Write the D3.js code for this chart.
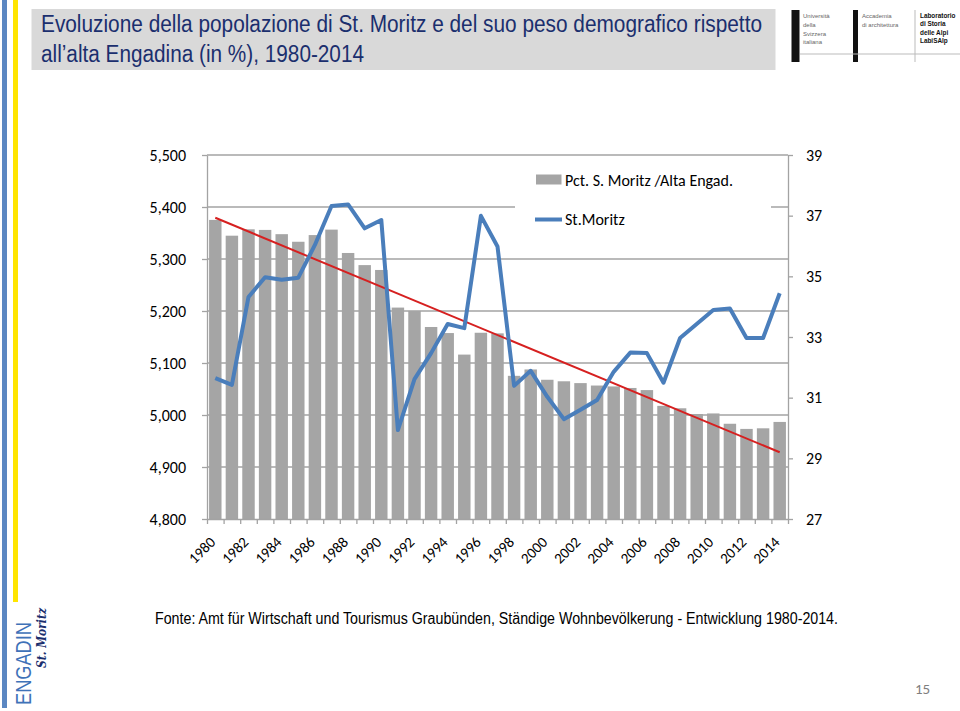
<!DOCTYPE html>
<html>
<head>
<meta charset="utf-8">
<script src="https://cdn.jsdelivr.net/npm/d3@7"></script>
<style>
  html, body { margin: 0; padding: 0; background: #ffffff; }
  svg { display: block; }
</style>
</head>
<body>
<svg id="chart" width="960" height="711"></svg>
<script>
// ---------- DATA ----------
const years = [1980,1981,1982,1983,1984,1985,1986,1987,1988,1989,
               1990,1991,1992,1993,1994,1995,1996,1997,1998,1999,
               2000,2001,2002,2003,2004,2005,2006,2007,2008,2009,
               2010,2011,2012,2013,2014];
// share of St. Moritz in Upper Engadine population (%), right axis
const pctValues = [36.86,36.34,36.55,36.53,36.39,36.14,36.36,36.54,35.77,35.37,
                   35.21,33.97,33.86,33.33,33.13,32.42,33.14,33.12,31.72,31.93,
                   31.59,31.54,31.48,31.40,31.37,31.32,31.25,30.73,30.65,30.46,
                   30.48,30.14,29.97,29.99,30.20];
// St. Moritz population, left axis
const popValues = [5071,5058,5227,5265,5260,5264,5327,5402,5405,5359,
                   5375,4971,5069,5119,5175,5167,5383,5324,5056,5085,
                   5035,4992,5010,5029,5083,5120,5119,5062,5148,5175,
                   5202,5205,5148,5148,5234];
// linear trend of the percentage series (start 1980, end 2014)
const trendYears = [1980, 2014];
const trendValues = [36.93, 29.20];
const leftTicks = [4800,4900,5000,5100,5200,5300,5400,5500];
const rightTicks = [27,29,31,33,35,37,39];
const xLabelYears = [1980,1982,1984,1986,1988,1990,1992,1994,1996,1998,
                     2000,2002,2004,2006,2008,2010,2012,2014];
const legendLabels = ["Pct. S. Moritz /Alta Engad.", "St.Moritz"];
const titleLines = ["Evoluzione della popolazione di St. Moritz e del suo peso demografico rispetto",
                    "all\u2019alta Engadina (in %), 1980-2014"];
const sourceText = "Fonte: Amt für Wirtschaft und Tourismus Graubünden, Ständige Wohnbevölkerung - Entwicklung 1980-2014.";
const pageNumber = "15";
const logoUsi = ["Università","della","Svizzera","italiana"];
const logoAcc = ["Accademia","di architettura"];
const logoLab = ["Laboratorio","di Storia","delle Alpi","LabiSAlp"];

// ---------- LAYOUT ----------
const svg = d3.select("#chart");
const plot = {left: 207, right: 788, top: 155, bottom: 519};
const axisFont = "Calibri, Carlito, Lato, 'Open Sans', sans-serif";
const BAR = "#a5a5a5", BLUE = "#4a7ebb", RED = "#d62020", GRID = "#a3a3a3";

// page decorations
svg.append("rect").attr("x", 2).attr("y", 0).attr("width", 5).attr("height", 708).attr("fill", "#5b87c2");
svg.append("rect").attr("x", 13).attr("y", 0).attr("width", 5).attr("height", 602).attr("fill", "#ffe500");

// title box
svg.append("rect").attr("x", 31.5).attr("y", 9).attr("width", 744).attr("height", 61).attr("fill", "#d9d9d9");
const tl = svg.append("g").attr("font-family", "'Liberation Sans', Arial, sans-serif")
  .attr("font-size", 23).attr("fill", "#1b2f6e");
tl.append("text").attr("x", 41).attr("y", 32).text(titleLines[0])
  .attr("textLength", 721).attr("lengthAdjust", "spacingAndGlyphs");
tl.append("text").attr("x", 41).attr("y", 62).text(titleLines[1])
  .attr("textLength", 323).attr("lengthAdjust", "spacingAndGlyphs");

// logos top right
const lg = svg.append("g").attr("font-family", "'Liberation Sans', Arial, sans-serif");
lg.append("rect").attr("x", 791.5).attr("y", 10).attr("width", 8).attr("height", 52).attr("fill", "#111");
lg.append("rect").attr("x", 853).attr("y", 10).attr("width", 5).attr("height", 52).attr("fill", "#111");
lg.append("line").attr("x1", 915).attr("x2", 915).attr("y1", 10).attr("y2", 62).attr("stroke", "#bbb").attr("stroke-width", 1);
lg.append("line").attr("x1", 800).attr("x2", 960).attr("y1", 54).attr("y2", 54).attr("stroke", "#bbb").attr("stroke-width", 1);
logoUsi.forEach((t,i) =>
  lg.append("text").attr("x", 803).attr("y", 18 + i*8.8).attr("font-size", 6).attr("fill", "#666").text(t));
logoAcc.forEach((t,i) =>
  lg.append("text").attr("x", 862).attr("y", 18 + i*8.8).attr("font-size", 6).attr("fill", "#666").text(t));
logoLab.forEach((t,i) =>
  lg.append("text").attr("x", 920).attr("y", 18 + i*8.4).attr("font-size", 6.4).attr("font-weight", "bold").attr("fill", "#111").text(t));

// ---------- SCALES ----------
const x = d3.scaleBand().domain(years).range([plot.left, plot.right]).paddingInner(0.25).paddingOuter(0.125);
const xb = d3.scaleLinear().domain([0, years.length]).range([plot.left, plot.right]);
const yL = d3.scaleLinear().domain([4800, 5500]).range([plot.bottom, plot.top]);
const yR = d3.scaleLinear().domain([27, 39]).range([plot.bottom, plot.top]);
const cx = d => x(d) + x.bandwidth() / 2;

// gridlines
svg.append("g").selectAll("line").data(leftTicks.slice(1)).join("line")
  .attr("x1", plot.left).attr("x2", plot.right)
  .attr("y1", d => yL(d)).attr("y2", d => yL(d))
  .attr("stroke", GRID).attr("stroke-width", 1.3);

// bars
svg.append("g").selectAll("rect").data(years).join("rect")
  .attr("x", d => x(d)).attr("width", x.bandwidth())
  .attr("y", (d, i) => yR(pctValues[i]))
  .attr("height", (d, i) => plot.bottom - yR(pctValues[i]))
  .attr("fill", BAR);

// trend line
svg.append("line")
  .attr("x1", cx(trendYears[0])).attr("y1", yR(trendValues[0]))
  .attr("x2", cx(trendYears[1])).attr("y2", yR(trendValues[1]))
  .attr("stroke", RED).attr("stroke-width", 2);

// population line
svg.append("path").datum(years)
  .attr("fill", "none").attr("stroke", BLUE).attr("stroke-width", 4)
  .attr("stroke-linejoin", "round")
  .attr("d", d3.line().x(d => cx(d)).y((d, i) => yL(popValues[i])));

// ---------- AXES ----------
function styleAxis(g) {
  g.select(".domain").attr("stroke", GRID).attr("stroke-width", 1.3);
  g.selectAll(".tick line").attr("stroke", GRID).attr("stroke-width", 1.3);
  g.selectAll("text").attr("font-family", axisFont).attr("font-size", 16).attr("fill", "#000");
}
svg.append("g").attr("transform", `translate(${plot.left},0)`)
  .call(d3.axisLeft(yL).tickValues(leftTicks).tickFormat(d3.format(",")).tickSize(5).tickPadding(16).tickSizeOuter(0))
  .call(styleAxis);
svg.append("g").attr("transform", `translate(${plot.right},0)`)
  .call(d3.axisRight(yR).tickValues(rightTicks).tickSize(5).tickPadding(13).tickSizeOuter(0))
  .call(styleAxis);
svg.append("g").attr("transform", `translate(0,${plot.bottom})`)
  .call(d3.axisBottom(xb).tickValues(d3.range(years.length + 1)).tickFormat("").tickSize(5).tickSizeOuter(0))
  .call(styleAxis);

// x labels rotated
svg.append("g").selectAll("text").data(xLabelYears).join("text")
  .attr("transform", d => `translate(${cx(d) + 1},${plot.bottom + 24}) rotate(-45)`)
  .attr("text-anchor", "end")
  .attr("font-family", axisFont).attr("font-size", 15).attr("fill", "#000")
  .text(d => d);

// ---------- LEGEND ----------
svg.append("rect").attr("x", 515).attr("y", 160).attr("width", 256).attr("height", 82).attr("fill", "#fff");
svg.append("rect").attr("x", 536).attr("y", 174.5).attr("width", 25.5).attr("height", 10).attr("fill", BAR);
svg.append("line").attr("x1", 535).attr("x2", 562).attr("y1", 219.5).attr("y2", 219.5)
  .attr("stroke", BLUE).attr("stroke-width", 4);
svg.append("text").attr("x", 565).attr("y", 185.5).attr("font-family", axisFont).attr("font-size", 16).text(legendLabels[0]);
svg.append("text").attr("x", 565).attr("y", 225).attr("font-family", axisFont).attr("font-size", 16).text(legendLabels[1]);

// ---------- SOURCE ----------
svg.append("text").attr("x", 155).attr("y", 624)
  .attr("font-family", "'Liberation Sans', Arial, sans-serif").attr("font-size", 16).attr("fill", "#000")
  .attr("textLength", 683).attr("lengthAdjust", "spacingAndGlyphs")
  .text(sourceText);

// page number
svg.append("text").attr("x", 915).attr("y", 694)
  .attr("font-family", axisFont).attr("font-size", 15).attr("fill", "#7f7f7f").text(pageNumber);

// bottom-left logo
svg.append("text").attr("transform", "translate(31,705) rotate(-90)")
  .attr("font-family", "'Liberation Sans', Arial, sans-serif").attr("font-size", 22).attr("fill", "#3f72b8")
  .attr("textLength", 83).attr("lengthAdjust", "spacingAndGlyphs").text("ENGADIN");
svg.append("text").attr("transform", "translate(46,668) rotate(-90)")
  .attr("font-family", "'DejaVu Serif', serif").attr("font-style", "italic").attr("font-weight", "bold")
  .attr("font-size", 13).attr("fill", "#1b2f6e")
  .attr("textLength", 60).attr("lengthAdjust", "spacingAndGlyphs").text("St. Moritz");
</script>
</body>
</html>
